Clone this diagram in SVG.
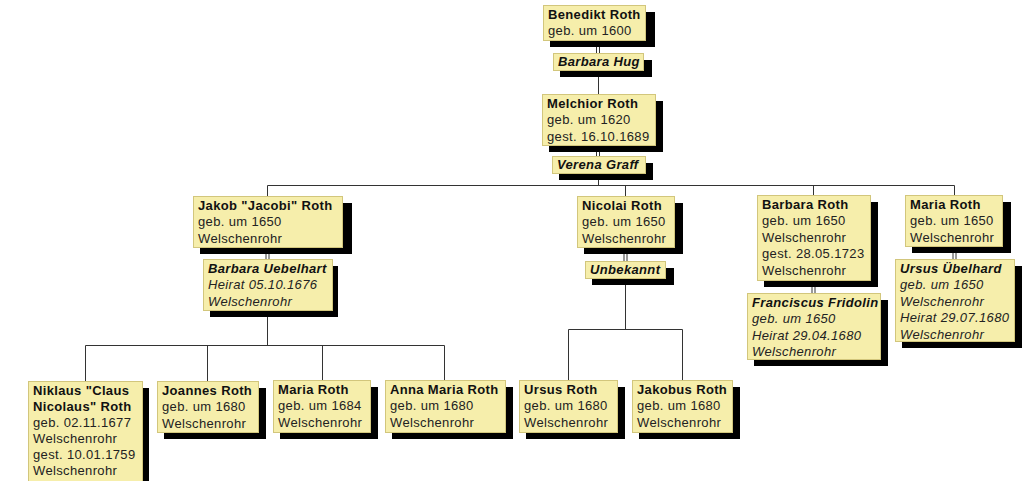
<svg xmlns="http://www.w3.org/2000/svg" width="1024" height="481" viewBox="0 0 1024 481">
<style>
  .sh { fill: #000; }
  .box { fill: #f6eeab; stroke: #d2c67c; stroke-width: 1; }
  text { font-family: "Liberation Sans", Arial, sans-serif; font-size: 13px; letter-spacing: 0.35px; fill: #222; }
  .b { font-weight: bold; fill: #111; }
  .bi { font-weight: bold; font-style: italic; fill: #111; }
  .i { font-style: italic; }
  .ln { stroke: #333; stroke-width: 1; fill: none; }
</style>
<rect width="1024" height="481" fill="#fff"/>

<g id="connectors">
  <path class="ln" d="M596.5 40V53M599.5 40V53"/>
  <path class="ln" d="M598.5 70V94"/>
  <path class="ln" d="M596.5 145V156M599.5 145V156"/>
  <path class="ln" d="M598.5 173V185.5"/>
  <path class="ln" d="M267.5 185.5H954.5"/>
  <path class="ln" d="M267.5 185.5V196M625.5 185.5V196M813.5 185.5V195M954.5 185.5V195"/>
  <path class="ln" d="M266 247V259M269 247V259"/>
  <path class="ln" d="M267.5 310V345.5"/>
  <path class="ln" d="M85.5 345.5H444.5M85.5 345.5V381M207.5 345.5V381M322.5 345.5V380M444.5 345.5V380"/>
  <path class="ln" d="M624 247V261M627 247V261"/>
  <path class="ln" d="M625.5 278V329.5"/>
  <path class="ln" d="M568.5 329.5H682.5M568.5 329.5V380M682.5 329.5V380"/>
  <path class="ln" d="M812 279V293M815 279V293"/>
  <path class="ln" d="M953 246V259M956 246V259"/>
</g>

<g id="n-benedikt">
  <rect class="sh" x="550" y="12" width="105" height="35"/>
  <rect class="box" x="543.5" y="5.5" width="102" height="35"/>
  <text x="548" y="18.5"><tspan class="b">Benedikt Roth</tspan><tspan x="548" dy="16.5">geb. um 1600</tspan></text>
</g>

<g id="n-barbara-hug">
  <rect class="sh" x="560" y="60" width="92" height="17"/>
  <rect class="box" x="553.5" y="53.5" width="90" height="17"/>
  <text x="558" y="66"><tspan class="bi">Barbara Hug</tspan></text>
</g>

<g id="n-melchior">
  <rect class="sh" x="549" y="101" width="114" height="51"/>
  <rect class="box" x="542.5" y="94.5" width="113" height="51"/>
  <text x="547" y="107.5"><tspan class="b">Melchior Roth</tspan><tspan x="547" dy="16.5">geb. um 1620</tspan><tspan x="547" dy="16.5">gest. 16.10.1689</tspan></text>
</g>

<g id="n-verena">
  <rect class="sh" x="559" y="163" width="94" height="17"/>
  <rect class="box" x="552.5" y="156.5" width="93" height="17"/>
  <text x="557" y="169"><tspan class="bi">Verena Graff</tspan></text>
</g>

<g id="n-jakob">
  <rect class="sh" x="200" y="203" width="152" height="51"/>
  <rect class="box" x="193.5" y="196.5" width="149" height="51"/>
  <text x="198" y="209.5"><tspan class="b">Jakob "Jacobi" Roth</tspan><tspan x="198" dy="16.5">geb. um 1650</tspan><tspan x="198" dy="16.5">Welschenrohr</tspan></text>
</g>

<g id="n-uebelhart">
  <rect class="sh" x="210" y="266" width="128" height="51"/>
  <rect class="box" x="203.5" y="259.5" width="129" height="51"/>
  <text x="208" y="272.5"><tspan class="bi">Barbara Uebelhart</tspan><tspan class="i" x="208" dy="16.5">Heirat 05.10.1676</tspan><tspan class="i" x="208" dy="16.5">Welschenrohr</tspan></text>
</g>

<g id="n-nicolai">
  <rect class="sh" x="584" y="203" width="99" height="51"/>
  <rect class="box" x="577.5" y="196.5" width="97" height="51"/>
  <text x="582" y="209.5"><tspan class="b">Nicolai Roth</tspan><tspan x="582" dy="16.5">geb. um 1650</tspan><tspan x="582" dy="16.5">Welschenrohr</tspan></text>
</g>

<g id="n-unbekannt">
  <rect class="sh" x="592" y="268" width="82" height="17"/>
  <rect class="box" x="585.5" y="261.5" width="80" height="17"/>
  <text x="590" y="274"><tspan class="bi">Unbekannt</tspan></text>
</g>

<g id="n-barbara-roth">
  <rect class="sh" x="764" y="202" width="114" height="85"/>
  <rect class="box" x="757.5" y="195.5" width="113" height="85"/>
  <text x="762" y="208.5"><tspan class="b">Barbara Roth</tspan><tspan x="762" dy="16.5">geb. um 1650</tspan><tspan x="762" dy="16.5">Welschenrohr</tspan><tspan x="762" dy="16.5">gest. 28.05.1723</tspan><tspan x="762" dy="16.5">Welschenrohr</tspan></text>
</g>

<g id="n-franciscus">
  <rect class="sh" x="754" y="300" width="134" height="66"/>
  <rect class="box" x="747.5" y="293.5" width="133" height="66"/>
  <text x="752" y="306.5"><tspan class="bi">Franciscus Fridolin</tspan><tspan class="i" x="752" dy="16.5">geb. um 1650</tspan><tspan class="i" x="752" dy="16.5">Heirat 29.04.1680</tspan><tspan class="i" x="752" dy="16.5">Welschenrohr</tspan></text>
</g>

<g id="n-maria-g2">
  <rect class="sh" x="912" y="202" width="99" height="51"/>
  <rect class="box" x="905.5" y="195.5" width="97" height="51"/>
  <text x="910" y="208.5"><tspan class="b">Maria Roth</tspan><tspan x="910" dy="16.5">geb. um 1650</tspan><tspan x="910" dy="16.5">Welschenrohr</tspan></text>
</g>

<g id="n-ursus-uebelhard">
  <rect class="sh" x="902" y="266" width="120" height="82"/>
  <rect class="box" x="895.5" y="259.5" width="119" height="82"/>
  <text x="900" y="272.5"><tspan class="bi">Ursus Übelhard</tspan><tspan class="i" x="900" dy="16.5">geb. um 1650</tspan><tspan class="i" x="900" dy="16.5">Welschenrohr</tspan><tspan class="i" x="900" dy="16.5">Heirat 29.07.1680</tspan><tspan class="i" x="900" dy="16.5">Welschenrohr</tspan></text>
</g>

<g id="n-niklaus">
  <rect class="sh" x="35" y="388" width="114" height="101"/>
  <rect class="box" x="28.5" y="381.5" width="114" height="101"/>
  <text x="33" y="394.5"><tspan class="b">Niklaus "Claus</tspan><tspan class="b" x="33" dy="16">Nicolaus" Roth</tspan><tspan x="33" dy="16">geb. 02.11.1677</tspan><tspan x="33" dy="16">Welschenrohr</tspan><tspan x="33" dy="16">gest. 10.01.1759</tspan><tspan x="33" dy="16">Welschenrohr</tspan></text>
</g>

<g id="n-joannes">
  <rect class="sh" x="164" y="388" width="102" height="51"/>
  <rect class="box" x="157.5" y="381.5" width="101" height="51"/>
  <text x="162" y="394.5"><tspan class="b">Joannes Roth</tspan><tspan x="162" dy="16.5">geb. um 1680</tspan><tspan x="162" dy="16.5">Welschenrohr</tspan></text>
</g>

<g id="n-maria-child">
  <rect class="sh" x="280" y="387" width="98" height="52"/>
  <rect class="box" x="273.5" y="380.5" width="97" height="52"/>
  <text x="278" y="393.5"><tspan class="b">Maria Roth</tspan><tspan x="278" dy="16.5">geb. um 1684</tspan><tspan x="278" dy="16.5">Welschenrohr</tspan></text>
</g>

<g id="n-anna-maria">
  <rect class="sh" x="392" y="387" width="121" height="52"/>
  <rect class="box" x="385.5" y="380.5" width="120" height="52"/>
  <text x="390" y="393.5"><tspan class="b">Anna Maria Roth</tspan><tspan x="390" dy="16.5">geb. um 1680</tspan><tspan x="390" dy="16.5">Welschenrohr</tspan></text>
</g>

<g id="n-ursus-roth">
  <rect class="sh" x="526" y="387" width="99" height="52"/>
  <rect class="box" x="519.5" y="380.5" width="98" height="52"/>
  <text x="524" y="393.5"><tspan class="b">Ursus Roth</tspan><tspan x="524" dy="16.5">geb. um 1680</tspan><tspan x="524" dy="16.5">Welschenrohr</tspan></text>
</g>

<g id="n-jakobus">
  <rect class="sh" x="639" y="387" width="101" height="52"/>
  <rect class="box" x="632.5" y="380.5" width="100" height="52"/>
  <text x="637" y="393.5"><tspan class="b">Jakobus Roth</tspan><tspan x="637" dy="16.5">geb. um 1680</tspan><tspan x="637" dy="16.5">Welschenrohr</tspan></text>
</g>
</svg>
